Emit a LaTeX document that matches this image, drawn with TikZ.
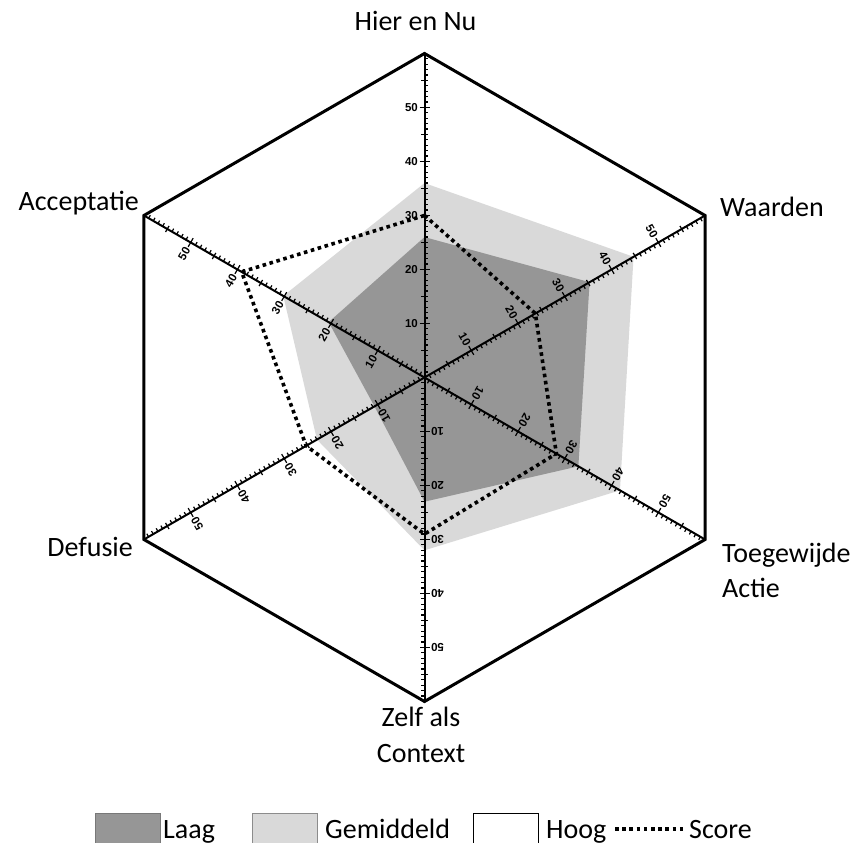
\documentclass[tikz,border=0pt]{standalone}
\usepackage{fontspec}
\setmainfont{Carlito}
\newfontfamily\tickfont{Liberation Sans}
\definecolor{laag}{RGB}{150,150,150}
\definecolor{gem}{RGB}{217,217,217}
\begin{document}
\begin{tikzpicture}[x=1pt,y=1pt,
  axtitle/.style={font=\fontsize{28}{35}\selectfont, inner sep=0pt},
  ticklab/.style={font=\tickfont\bfseries\fontsize{11.5}{12}\selectfont, inner sep=0pt},
  scoreline/.style={line width=3.6pt, dash pattern=on 3.6pt off 3.6pt},
  hexline/.style={line width=3pt, line join=miter},
  axisline/.style={line width=2pt},
  tickline/.style={line width=1.2pt},
  legbox/.style={minimum width=65pt, minimum height=30pt, inner sep=0pt, line width=1pt},
  legtext/.style={font=\fontsize{28}{35}\selectfont, inner sep=0pt, anchor=base west}
]
\useasboundingbox (0,0) rectangle (850,842);
\begin{scope}[shift={(424.5,464.5)}]
\begin{scope}[x=5.4pt,y=5.4pt]
  % Gemiddeld
  \fill[gem] (90:36) -- (30:44.7) -- (-30:41.8) -- (-90:32) -- (210:23) -- (150:30.2) -- cycle;
  % Laag
  \fill[laag] (90:26) -- (30:35.3) -- (-30:32.9) -- (-90:23) -- (210:10.7) -- (150:20.5) -- cycle;
  % axes and ticks
  \foreach \a in {90,30,-30,-90,210,150} {
    \draw[axisline] (0,0) -- (\a:60);
    \foreach \i in {1,...,59} {
      \pgfmathtruncatemacro\mten{mod(\i,10)}
      \pgfmathtruncatemacro\mfive{mod(\i,5)}
      \ifnum\mten=0
        \draw[tickline] (\a:\i) ++({\a+90}:5pt) -- ++({\a-90}:10pt);
        \path (\a:\i) ++({\a+90}:6.5pt) node[ticklab, anchor=east, rotate={\a-90}] {\i};
      \else\ifnum\mfive=0
        \draw[tickline] (\a:\i) ++({\a+90}:3.5pt) -- ++({\a-90}:7pt);
      \else
        \draw[tickline] (\a:\i) -- ++({\a-90}:3.5pt);
      \fi\fi
    }
  }
  % Score
  \draw[scoreline] (90:30) -- (30:23.7) -- (-30:28.2) -- (-90:29) -- (210:25.3) -- (150:39.1) -- cycle;
  % outline
  \coordinate (vH) at (90:60);
  \coordinate (vW) at (30:60);
  \coordinate (vT) at (-30:60);
  \coordinate (vZ) at (-90:60);
  \coordinate (vD) at (210:60);
  \coordinate (vA) at (150:60);
  \draw[hexline] (vH) -- (vW) -- (vT) -- (vZ) -- (vD) -- (vA) -- cycle;
\end{scope}
\end{scope}
% axis titles
\node[axtitle, anchor=base] (tH) at (415.5,811) {Hier en Nu};
\node[axtitle, anchor=base west] (tW) at (720,625) {Waarden};
\node[axtitle, anchor=base west] (tT1) at (722,279) {Toegewijde};
\node[axtitle, anchor=base west] (tT2) at (722,244) {Actie};
\node[axtitle, anchor=base] (tZ1) at (421,115) {Zelf als};
\node[axtitle, anchor=base] (tZ2) at (421,79) {Context};
\node[axtitle, anchor=base east] (tD) at (133,285) {Defusie};
\node[axtitle, anchor=base east] (tA) at (139,631) {Acceptatie};
% legend
\node[legbox, fill=laag, draw={rgb,255:red,120;green,120;blue,120}] (bL) at (127.5,13) {};
\node[legtext] (lL) at (163,4) {Laag};
\node[legbox, fill=gem, draw={rgb,255:red,140;green,140;blue,140}] (bG) at (285,13) {};
\node[legtext] (lG) at (325,4) {Gemiddeld};
\node[legbox, fill=white, draw=black] (bH) at (506,13) {};
\node[legtext] (lH) at (546,4) {Hoog};
\coordinate (s1) at (615,13);
\coordinate (s2) at (685,13);
\draw[scoreline] (s1) -- (s2);
\node[legtext] (lS) at (689,4) {Score};
\end{tikzpicture}
\end{document}
